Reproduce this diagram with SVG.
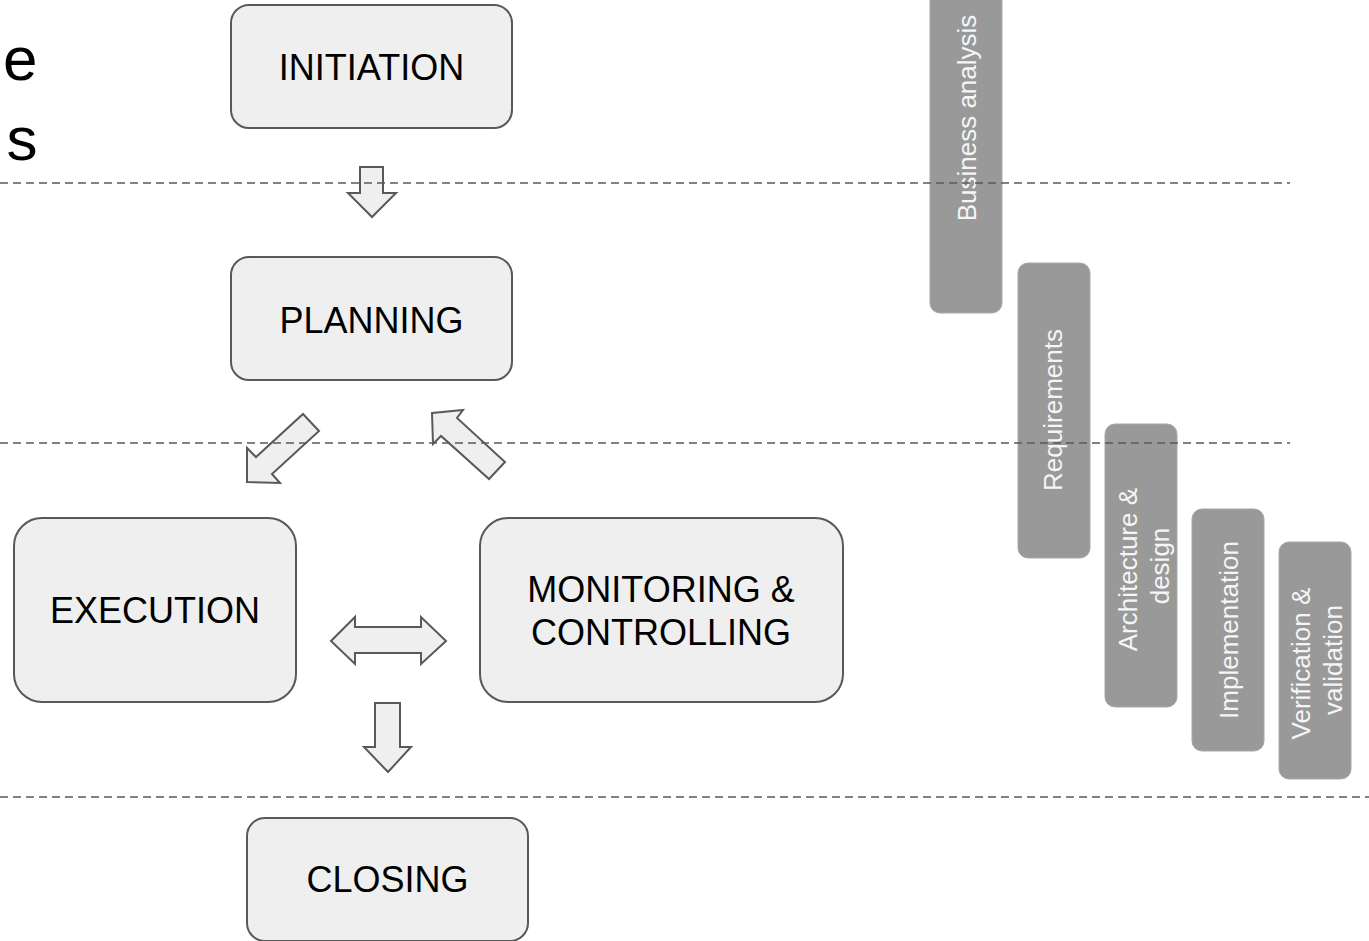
<svg xmlns="http://www.w3.org/2000/svg" width="1369" height="941" viewBox="0 0 1369 941">
<style>
  .node { fill: #efefef; stroke: #595959; stroke-width: 2; }
  .label { font-family: "Liberation Sans", Arial, sans-serif; font-size: 36px; fill: #000; text-anchor: middle; }
  .arrow { fill: #efefef; stroke: #595959; stroke-width: 2; stroke-linejoin: miter; }
  .bar { fill: #999999; stroke: #a8a8a8; stroke-width: 1; }
  .bartext { font-family: "Liberation Sans", Arial, sans-serif; font-size: 26px; fill: #f5f5f5; text-anchor: middle; }
  .title { font-family: "Liberation Sans", Arial, sans-serif; font-size: 62px; fill: #000; text-anchor: end; }
  .divider { stroke: #595959; stroke-width: 1.6; stroke-dasharray: 8 5; fill: none; }
</style>
<rect x="0" y="0" width="1369" height="941" fill="#ffffff"/>

<g id="title">
  <text class="title" x="37.5" y="80">e</text>
  <text class="title" x="37.5" y="160">s</text>
</g>

<g id="initiation">
  <rect class="node" x="231" y="5" width="281" height="123" rx="18"/>
  <text class="label" x="371.5" y="80">INITIATION</text>
</g>
<g id="planning">
  <rect class="node" x="231" y="257" width="281" height="123" rx="18"/>
  <text class="label" x="371.5" y="333">PLANNING</text>
</g>
<g id="execution">
  <rect class="node" x="14" y="518" width="282" height="184" rx="28"/>
  <text class="label" x="155" y="623">EXECUTION</text>
</g>
<g id="monitoring">
  <rect class="node" x="480" y="518" width="363" height="184" rx="28"/>
  <text class="label" x="661" y="602">MONITORING &amp;</text>
  <text class="label" x="661" y="645">CONTROLLING</text>
</g>
<g id="closing">
  <rect class="node" x="247" y="818" width="281" height="123" rx="18"/>
  <text class="label" x="387.5" y="892">CLOSING</text>
</g>

<g id="connectors">
  <polygon class="arrow" points="360,167 383,167 383,193 396,193 372,217 348,193 360,193"/>
  <polygon class="arrow" points="303,414 319,431 272,474 280,483 247,482 247,448 256,457"/>
  <polygon class="arrow" points="432,413 463,410 457,418 505,462 489,479 441,436 433,444"/>
  <polygon class="arrow" points="331,641 355,617 355,627 421,627 421,617 446,641 421,664 421,653 355,653 355,664"/>
  <polygon class="arrow" points="375,703 400,703 400,747 411,747 388,772 364,747 375,747"/>
</g>

<g id="business-analysis">
  <rect class="bar" x="930" y="-20" width="72" height="333" rx="10"/>
  <text class="bartext" transform="translate(976,118) rotate(-90)">Business analysis</text>
</g>
<g id="requirements">
  <rect class="bar" x="1018" y="263" width="72" height="295" rx="10"/>
  <text class="bartext" transform="translate(1062,410) rotate(-90)">Requirements</text>
</g>
<g id="architecture">
  <rect class="bar" x="1105" y="424" width="72" height="283" rx="10"/>
  <text class="bartext" transform="translate(1137,566) rotate(-90)">
    <tspan x="0" y="0">Architecture &amp;</tspan>
    <tspan x="0" y="32">design</tspan>
  </text>
</g>
<g id="implementation">
  <rect class="bar" x="1192" y="509" width="72" height="242" rx="10"/>
  <text class="bartext" transform="translate(1238,630) rotate(-90)">Implementation</text>
</g>
<g id="verification">
  <rect class="bar" x="1279" y="542" width="72" height="237" rx="10"/>
  <text class="bartext" transform="translate(1310,660) rotate(-90)">
    <tspan x="0" y="0">Verification &amp;</tspan>
    <tspan x="0" y="32">validation</tspan>
  </text>
</g>

<g id="dividers">
  <line class="divider" x1="0" y1="183" x2="1290" y2="183"/>
  <line class="divider" x1="0" y1="443" x2="1290" y2="443"/>
  <line class="divider" x1="0" y1="797" x2="1369" y2="797"/>
</g>
</svg>
